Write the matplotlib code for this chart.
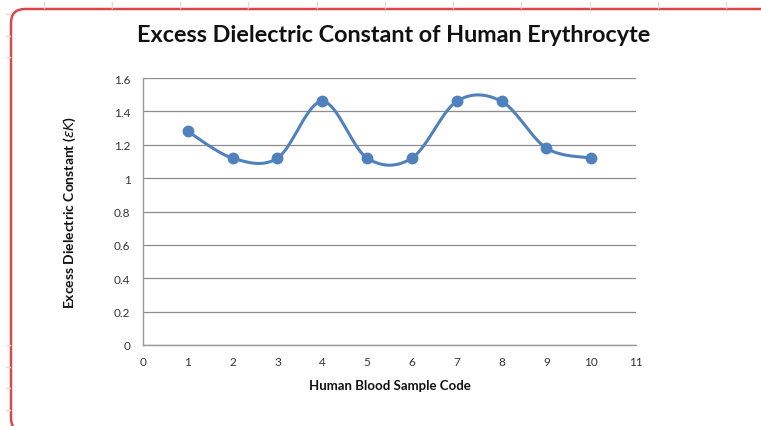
import matplotlib
matplotlib.use("Agg")
import matplotlib.pyplot as plt
import numpy as np
from matplotlib.patches import FancyBboxPatch
from matplotlib.transforms import IdentityTransform
from matplotlib.lines import Line2D

# ---- data ----
sample_codes = [1, 2, 3, 4, 5, 6, 7, 8, 9, 10]
excess_dielectric = [1.28, 1.12, 1.12, 1.46, 1.12, 1.12, 1.46, 1.46, 1.18, 1.12]
x_ticks = list(range(0, 12))
y_ticks = [0, 0.2, 0.4, 0.6, 0.8, 1, 1.2, 1.4, 1.6]
y_tick_labels = ["0", "0.2", "0.4", "0.6", "0.8", "1", "1.2", "1.4", "1.6"]

title = "Excess Dielectric Constant of Human Erythrocyte"
xlabel = "Human Blood Sample Code"
ylabel = r"Excess Dielectric Constant ($\varepsilon K$)"

plt.rcParams['font.family'] = ['Lato', 'DejaVu Sans']

W, H = 761, 427
fig = plt.figure(figsize=(W / 100, H / 100), dpi=100)

# spreadsheet background marks
for xp in [44, 112, 180, 248, 317, 385, 453, 521, 590, 658, 726]:
    fig.add_artist(Line2D([xp, xp], [H - 3, H - 9], transform=IdentityTransform(),
                          color="#dddddd", lw=1))
for yp in [15, 37, 58, 346, 368, 389, 411]:
    fig.add_artist(Line2D([6, 10], [H - yp, H - yp], transform=IdentityTransform(),
                          color="#dddddd", lw=1))

# red rounded frame
frame = FancyBboxPatch((11, -6), 764, H - 9 + 6 - 1,
                       boxstyle="round,pad=0,rounding_size=14",
                       transform=IdentityTransform(), fill=False,
                       edgecolor="#d9474b", lw=1.8)
fig.add_artist(frame)

ax = fig.add_axes([143 / W, (H - 346) / H, (636 - 143) / W, (346 - 79) / H])

# Excel-style smoothed line (Bezier through points)
xs = np.array(sample_codes, dtype=float)
ys = np.array(excess_dielectric, dtype=float)
n = len(xs)
cx, cy = [], []
t = np.linspace(0, 1, 40)
for i in range(n - 1):
    p0 = np.array([xs[max(i - 1, 0)], ys[max(i - 1, 0)]])
    p1 = np.array([xs[i], ys[i]])
    p2 = np.array([xs[i + 1], ys[i + 1]])
    p3 = np.array([xs[min(i + 2, n - 1)], ys[min(i + 2, n - 1)]])
    c1 = p1 + (p2 - p0) / 6
    c2 = p2 - (p3 - p1) / 6
    bx = (1 - t) ** 3 * p1[0] + 3 * (1 - t) ** 2 * t * c1[0] + 3 * (1 - t) * t ** 2 * c2[0] + t ** 3 * p2[0]
    by = (1 - t) ** 3 * p1[1] + 3 * (1 - t) ** 2 * t * c1[1] + 3 * (1 - t) * t ** 2 * c2[1] + t ** 3 * p2[1]
    cx.extend(bx)
    cy.extend(by)

blue = "#4f81bd"
ax.plot(cx, cy, color=blue, lw=2.2, solid_capstyle="round", zorder=3)
ax.plot(xs, ys, "o", color=blue, ms=7.5, zorder=4)

ax.set_xlim(0, 11)
ax.set_ylim(0, 1.6)
ax.set_xticks(x_ticks)
ax.set_yticks(y_ticks)
ax.set_yticklabels(y_tick_labels)
ax.tick_params(axis="both", length=0, labelsize=8.5, colors="#333333", pad=9)
ax.tick_params(axis="x", pad=8)
ax.grid(axis="y", color="#8c8c8c", lw=0.9)
ax.set_axisbelow(True)
for s in ["top", "right"]:
    ax.spines[s].set_visible(False)
for s in ["left", "bottom"]:
    ax.spines[s].set_color("#9a9a9a")
    ax.spines[s].set_linewidth(1.0)

fig.text(394 / W, 1 - 36 / H, title, ha="center", va="center",
         fontsize=16.8, fontweight="bold", color="#111111")
fig.text(390 / W, 1 - 386 / H, xlabel, ha="center", va="center",
         fontsize=9.5, fontweight="bold", color="#111111")
fig.text(70 / W, 1 - 212 / H, ylabel, ha="center", va="center", rotation=90,
         fontsize=10, fontweight="bold", color="#111111")

fig.savefig("out.png", dpi=100)
